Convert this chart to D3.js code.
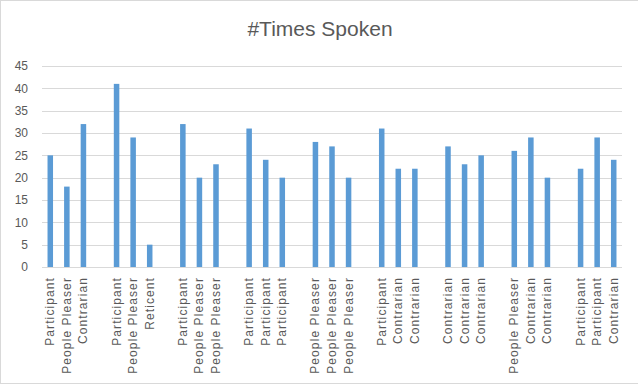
<!DOCTYPE html>
<html>
<head>
<meta charset="utf-8">
<script src="https://cdn.jsdelivr.net/npm/d3@7"></script>
<style>
  body { margin: 0; background: #fff; }
  text { font-family: "Liberation Sans", Arial, sans-serif; fill: #595959; }
</style>
</head>
<body>
<div id="chart"></div>
<script>
// Data: one slot per bar, "" / null slots are the blank gaps between groups
var categories = [
  'Participant', 'People Pleaser', 'Contrarian', '',
  'Participant', 'People Pleaser', 'Reticent', '',
  'Participant', 'People Pleaser', 'People Pleaser', '',
  'Participant', 'Participant', 'Participant', '',
  'People Pleaser', 'People Pleaser', 'People Pleaser', '',
  'Participant', 'Contrarian', 'Contrarian', '',
  'Contrarian', 'Contrarian', 'Contrarian', '',
  'People Pleaser', 'Contrarian', 'Contrarian', '',
  'Participant', 'Participant', 'Contrarian'
]
var values = [
  25, 18, 32, null,
  41, 29, 5, null,
  32, 20, 23, null,
  31, 24, 20, null,
  28, 27, 20, null,
  31, 22, 22, null,
  27, 23, 25, null,
  26, 29, 20, null,
  22, 29, 24
]
var yTicks = [0, 5, 10, 15, 20, 25, 30, 35, 40, 45]
var title = '#Times Spoken'

var W = 638, H = 386
var margin = {left: 42, right: 16, top: 66, bottom: 119}
var width = W - margin.left - margin.right
var height = H - margin.top - margin.bottom

var svg = d3.select('#chart').append('svg')
  .attr('width', W).attr('height', H)

// chart area border
svg.append('rect')
  .attr('x', 0.5).attr('y', 0.5)
  .attr('width', W + 2).attr('height', 383)
  .attr('fill', 'none').attr('stroke', '#d9d9d9')

svg.append('text')
  .attr('x', 320).attr('y', 36)
  .attr('text-anchor', 'middle')
  .style('font-size', '21px')
  .text(title)

var g = svg.append('g').attr('transform', 'translate(' + margin.left + ',' + margin.top + ')')

var x = d3.scaleBand()
  .domain(d3.range(categories.length))
  .range([0, width])
  .paddingInner(0.667).paddingOuter(0.333)

var y = d3.scaleLinear().domain([0, 45]).range([height, 0])

// gridlines
g.selectAll('line.grid').data(yTicks).join('line')
  .attr('class', 'grid')
  .attr('x1', 0).attr('x2', width)
  .attr('y1', d => Math.round(y(d)) + 0.5).attr('y2', d => Math.round(y(d)) + 0.5)
  .attr('stroke', '#d9d9d9').attr('stroke-width', 1.2)

// y axis labels
var yAxis = d3.axisLeft(y).tickValues(yTicks).tickSize(0).tickPadding(14)
g.append('g').call(yAxis)
  .call(s => s.select('.domain').remove())
  .selectAll('text')
  .style('font-size', '12px').style('fill', '#595959')
  .style('font-family', '"Liberation Sans", Arial, sans-serif')

// bars
var bars = d3.range(values.length).filter(i => values[i] != null)
g.selectAll('rect.bar').data(bars).join('rect')
  .attr('class', 'bar')
  .attr('x', i => x(i))
  .attr('width', x.bandwidth())
  .attr('y', i => y(values[i]))
  .attr('height', i => height - y(values[i]))
  .attr('fill', '#5b9bd5')

// category labels, rotated
g.selectAll('text.cat').data(d3.range(categories.length)).join('text')
  .attr('class', 'cat')
  .attr('transform', i => 'translate(' + (x(i) + x.bandwidth() / 2 + 4) + ',' + (height + 10) + ') rotate(-90)')
  .attr('text-anchor', 'end')
  .style('font-size', '12px')
  .style('letter-spacing', '1.1px')
  .text(i => categories[i])
</script>
</body>
</html>
